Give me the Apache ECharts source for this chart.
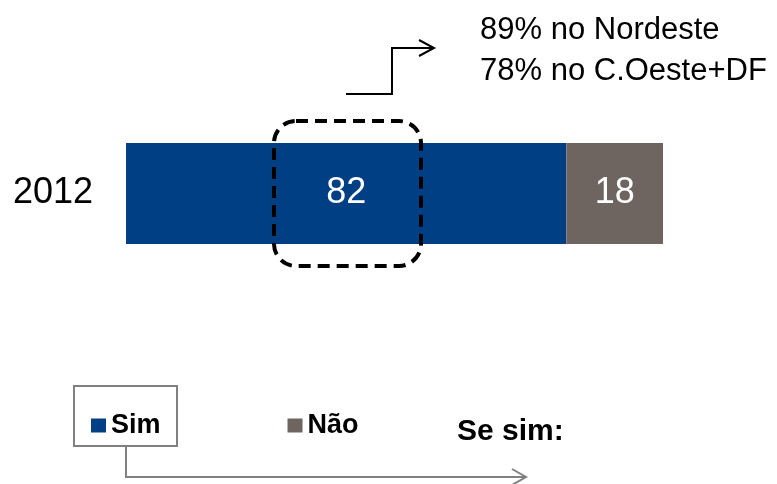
<!DOCTYPE html>
<html><head><meta charset="utf-8">
<script src="https://cdn.jsdelivr.net/npm/echarts@6/dist/echarts.min.js"></script>
<style>html,body{margin:0;padding:0;background:#fff}#c{width:777px;height:484px}</style>
</head><body><div id="c"></div>
<script>
var categories = ['2012'];
var seriesNames = ['Sim', 'Não'];
var simValues = [82];
var naoValues = [18];
var noteLines = ['89% no Nordeste', '78% no C.Oeste+DF'];
var subTitle = 'Se sim:';

var chart = echarts.init(document.getElementById('c'));
var F = 'Arial, "Liberation Sans", sans-serif';
chart.setOption({
  animation: false,
  grid: {left: 126, right: 114, top: 143, bottom: 240},
  xAxis: {type: 'value', min: 0, max: 100, show: false},
  yAxis: {type: 'category', data: categories, axisLine: {show: false}, axisTick: {show: false},
    axisLabel: {color: '#000', fontSize: 36, fontFamily: F, margin: 33}},
  legend: {left: 86, top: 407, itemWidth: 15, itemHeight: 14, itemGap: 127, icon: 'rect',
    textStyle: {fontSize: 27, fontWeight: 'bold', color: '#000', fontFamily: F},
    data: seriesNames},
  series: [
    {name: seriesNames[0], type: 'bar', stack: 't', data: simValues, barWidth: 101,
     itemStyle: {color: '#003F83'},
     label: {show: true, color: '#fff', fontSize: 36, fontFamily: F}},
    {name: seriesNames[1], type: 'bar', stack: 't', data: naoValues, barWidth: 101,
     itemStyle: {color: '#6F6560'},
     label: {show: true, color: '#fff', fontSize: 36, fontFamily: F}}
  ],
  graphic: [
    {type: 'rect', shape: {x: 274, y: 121, width: 147, height: 145, r: 22}, z: 100,
     style: {fill: 'none', stroke: '#000', lineWidth: 4, lineDash: [12, 7]}},
    {type: 'polyline', shape: {points: [[346, 94], [392, 94], [392, 48], [433, 48]]},
     style: {stroke: '#000', lineWidth: 2, fill: 'none'}},
    {type: 'polyline', shape: {points: [[419, 40], [434, 48], [419, 56]]},
     style: {stroke: '#000', lineWidth: 2, fill: 'none'}},
    {type: 'text', left: 480, top: 15, style: {text: noteLines[0], fontSize: 31, fontFamily: F, fill: '#000'}},
    {type: 'text', left: 480, top: 56, style: {text: noteLines[1], fontSize: 31, fontFamily: F, fill: '#000'}},
    {type: 'rect', shape: {x: 74, y: 386, width: 103, height: 60},
     style: {fill: 'none', stroke: '#808080', lineWidth: 2}},
    {type: 'polyline', shape: {points: [[126, 446], [126, 477], [525, 477]]},
     style: {stroke: '#808080', lineWidth: 2, fill: 'none'}},
    {type: 'polyline', shape: {points: [[512, 469], [526, 477], [512, 485]]},
     style: {stroke: '#808080', lineWidth: 2, fill: 'none'}},
    {type: 'text', left: 457, top: 417, style: {text: subTitle, fontSize: 30, fontWeight: 'bold', fontFamily: F, fill: '#000'}}
  ]
});
</script></body></html>
